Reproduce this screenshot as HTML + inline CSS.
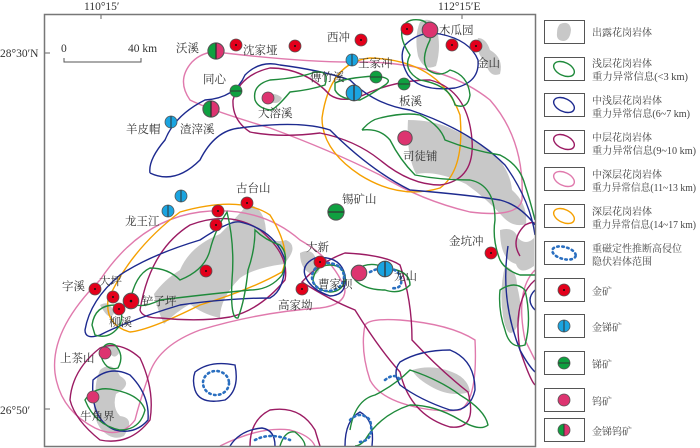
<!DOCTYPE html>
<html><head><meta charset="utf-8"><style>
body{margin:0;background:#fff;}
svg{display:block;font-family:"Liberation Serif","Noto Serif CJK SC",serif;}
.lb{font-size:11.5px;fill:#333;}
.lg{font-size:10px;fill:#444;}
</style></head><body>
<svg width="700" height="448" viewBox="0 0 700 448" xmlns="http://www.w3.org/2000/svg">
<text x="84" y="10" class="lb">110°15′</text>
<text x="438" y="10" class="lb">112°15′E</text>
<text x="0" y="57" class="lb">28°30′N</text>
<text x="0" y="414" class="lb">26°50′</text>
<line x1="101" y1="14" x2="101" y2="19" stroke="#666"/>
<line x1="462" y1="14" x2="462" y2="19" stroke="#666"/>
<line x1="44" y1="53" x2="50" y2="53" stroke="#666"/>
<line x1="44" y1="409" x2="50" y2="409" stroke="#666"/>
<g fill="#c8c8c8">
<path d="M420,22 q10,-6 16,4 q6,20 0,40 q-12,6 -18,-10 q-4,-20 2,-34z"/>
<path d="M478,38 q8,0 12,12 q14,8 10,24 q-10,4 -14,-10 q-12,-14 -8,-26z"/>
<path d="M262,98 q12,-8 20,0 q-4,10 -20,0z"/>
<path d="M408,120 q24,0 42,8 q22,10 40,22 q20,18 22,40 q16,14 14,34 q-12,4 -22,-6 q-18,-20 -38,-34 q-30,-14 -50,-10 q-10,-20 -8,-54z"/>
<path d="M500,230 q14,-4 18,8 q8,8 16,0 l0,28 q-14,10 -18,-2 q-16,-4 -16,-34z"/>
<path d="M505,266 q12,4 12,20 q8,30 -2,44 q-8,10 -12,-14 q-4,-26 2,-50z"/>
<path d="M180,270 q10,-24 40,-36 q14,-14 28,-30 q18,4 18,30 q8,10 20,6 q14,6 -2,24 q-30,4 -44,14 q-20,20 -20,40 q-18,-4 -30,-14 q-14,8 -26,20 q-8,-18 -10,-30 q10,-14 26,-24z"/>
<path d="M300,253 q12,-6 16,6 q8,12 -2,16 q-14,-4 -14,-22z"/>
<path d="M100,305 q10,-6 14,8 q-4,10 -14,-8z"/>
<path d="M100,370 q12,-10 20,6 q14,8 -4,18 q-4,14 4,22 q16,2 4,20 q-12,6 -24,-8 q-10,-16 -4,-30 q-2,-14 4,-28z"/>
<path d="M412,370 q20,-6 40,2 q16,6 18,20 q-20,6 -40,-6 q-14,-8 -18,-16z"/>
<path d="M105,345 q12,-4 14,8 q-6,10 -14,-8z"/>
</g>
<g fill="none" stroke-width="1.4">
<path stroke="#e07aad" d="M216,52 Q300,62 350,62 Q440,60 490,100 Q525,140 522,200 Q518,218 470,212 Q420,200 380,175 Q330,150 270,128 Q210,110 190,100 Q176,80 192,62 Q202,52 216,52z"/>
<path stroke="#e07aad" d="M55,373 Q50,330 100,280 Q140,220 200,212 Q260,205 300,240 Q335,260 345,290 Q345,305 320,308 Q260,312 200,330 Q160,345 150,372 Q140,400 135,420 Q120,440 95,428 Q60,410 55,373z"/>
<path stroke="#e07aad" d="M365,325 Q370,318 400,320 Q450,324 475,340 Q478,400 460,410 Q440,412 420,408 Q380,400 370,380 Q360,350 365,325z"/>
<path stroke="#e07aad" d="M535,270 Q515,290 525,340 Q535,360 535,360"/>
<path stroke="#e07aad" d="M220,446 Q260,426 290,430 Q310,435 315,446"/>
<path stroke="#f5a000" d="M322,118 Q330,62 370,58 Q440,60 460,115 Q465,170 440,188 Q400,200 360,175 Q322,150 322,118z"/>
<path stroke="#f5a000" d="M108,300 Q130,250 180,212 Q240,195 270,215 Q292,250 282,272 Q250,290 200,305 Q150,330 130,332 Q105,325 108,300z"/>
<path stroke="#9b1b63" d="M233,100 Q240,75 270,68 Q305,68 330,95 Q345,105 370,92 Q400,80 430,80 Q468,90 472,140 Q475,180 440,185 Q410,185 380,160 Q355,140 320,133 Q280,138 250,132 Q232,120 233,100z"/>
<path stroke="#9b1b63" d="M140,310 Q150,250 190,225 Q230,210 260,230 Q290,255 285,280 Q260,310 230,317 Q200,322 160,318 Q142,318 140,310z"/>
<path stroke="#9b1b63" d="M302,282 Q320,262 345,253 Q385,255 400,265 Q412,300 412,340 Q440,370 468,392 Q478,430 450,427 Q410,415 400,372 Q380,350 355,310 Q330,300 302,282z"/>
<path stroke="#9b1b63" d="M100,348 Q120,340 140,358 Q155,390 150,420 Q130,446 100,440 Q75,420 70,400 Q72,370 100,348z"/>
<path stroke="#9b1b63" d="M250,446 Q250,420 270,410 Q300,405 315,430 Q318,440 320,446"/>
<path stroke="#9b1b63" d="M520,256 Q510,240 525,225 Q535,220 535,225"/>
<path stroke="#9b1b63" d="M535,280 Q512,300 520,350 Q530,380 535,385"/>
<path stroke="#1d2a8f" d="M150,173 Q148,160 165,140 Q175,115 205,100 Q235,98 245,75 Q260,60 280,65 Q320,70 350,80 Q375,105 410,110 Q470,130 505,165 Q530,200 535,235 M150,173 Q175,185 200,160 Q215,130 240,128 Q300,120 330,130 Q370,170 410,190 Q470,195 500,200 Q520,205 535,225"/>
<path stroke="#1d2a8f" d="M405,45 Q420,30 440,34 Q470,40 478,60 Q480,82 455,88 Q420,92 408,75 Q398,58 405,45z"/>
<path stroke="#1d2a8f" d="M85,330 Q90,300 120,275 Q150,255 200,240 Q230,220 240,222 Q275,230 285,260 Q285,290 270,298 Q230,298 180,305 Q130,320 100,335 Q85,340 85,330z"/>
<path stroke="#1d2a8f" d="M306,278 Q300,265 315,258 Q340,255 345,275 Q348,295 330,296 Q312,290 306,278z"/>
<path stroke="#1d2a8f" d="M195,372 Q210,360 235,365 Q240,390 225,400 Q200,405 195,390 Q192,380 195,372z"/>
<path stroke="#1d2a8f" d="M93,380 Q110,365 130,375 Q150,395 148,420 Q135,435 115,430 Q90,420 93,380z"/>
<path stroke="#1d2a8f" d="M400,362 Q420,350 450,350 Q475,360 475,390 Q470,412 450,410 Q420,400 400,385 Q392,372 400,362z"/>
<path stroke="#1d2a8f" d="M508,246 Q500,300 520,350 Q528,365 535,372 M535,290 Q525,300 535,310"/>
<path stroke="#1d2a8f" d="M345,446 Q345,420 360,412 Q375,420 372,446"/>
<path stroke="#1d2a8f" d="M230,446 Q240,430 262,428 Q275,430 275,446"/>
<path stroke="#1f8a3b" d="M255,100 Q252,85 270,80 Q300,78 315,72 Q330,70 325,85 Q310,90 290,92 Q275,110 270,110 Q258,108 255,100z"/>
<path stroke="#1f8a3b" d="M335,83 Q345,78 375,76 Q395,78 385,85 Q370,95 360,100 Q340,100 335,90z"/>
<path stroke="#1f8a3b" d="M402,30 Q405,18 420,20 Q432,22 430,40 Q420,60 428,70 Q440,78 450,70 Q468,75 470,95 Q468,110 455,105 Q450,85 420,80 Q402,70 410,55 Q400,40 402,30z"/>
<path stroke="#1f8a3b" d="M362,130 Q370,120 380,118 Q405,112 420,115 Q440,125 445,140 Q470,150 500,155 Q520,165 525,185 Q530,200 535,220 M362,130 Q380,128 390,140 Q400,160 415,175 Q440,180 470,180 Q495,185 495,220 Q492,240 500,260 Q505,270 520,275 Q535,275 535,275"/>
<path stroke="#1f8a3b" d="M500,290 Q515,280 525,290 Q532,320 525,345 Q510,350 505,330 Q498,310 500,290z"/>
<path stroke="#1f8a3b" d="M92,325 Q95,305 115,305 Q125,310 120,325 Q110,340 95,335z"/>
<path stroke="#1f8a3b" d="M130,302 Q135,275 150,268 Q168,268 180,280 Q205,270 210,250 Q215,230 227,212 Q235,245 232,280 Q230,320 238,318 Q245,300 248,270 Q255,250 255,230 Q265,240 280,245 Q290,255 282,275 Q270,290 250,290 Q200,295 160,300 Q140,310 130,302z"/>
<path stroke="#1f8a3b" d="M313,280 Q315,265 330,265 Q345,265 345,280 Q342,292 330,292 Q315,290 313,280z"/>
<path stroke="#1f8a3b" d="M355,270 Q370,260 385,268 Q410,270 410,285 Q400,295 385,290 Q365,290 355,280z"/>
<path stroke="#1f8a3b" d="M100,353 Q105,340 115,345 Q125,355 118,368 Q105,372 100,353z"/>
<path stroke="#1f8a3b" d="M85,400 Q95,385 115,390 Q140,395 145,410 Q140,430 120,430 Q95,425 85,400z"/>
<path stroke="#1f8a3b" d="M350,430 Q355,400 375,395 Q395,385 410,370 Q440,380 460,395 Q485,410 488,425 Q480,432 460,420 Q435,405 410,405 Q380,415 365,440 Q360,446 355,446"/>
<path stroke="#1f8a3b" d="M280,446 Q285,430 295,432 Q305,440 305,446"/>
<g stroke="#2a6fc0" stroke-width="2.6" stroke-dasharray="1.5 3.5" stroke-linecap="round">
<ellipse cx="216" cy="383" rx="13" ry="12"/>
<ellipse cx="328" cy="277" rx="16" ry="14"/>
<path d="M370,272 Q390,262 400,275 Q405,290 390,288"/>
<path d="M350,420 Q360,410 370,420 Q375,440 360,442"/>
<path d="M385,380 Q395,372 400,380"/>
<path d="M255,440 Q270,432 290,440"/>
</g>
</g>
<rect x="44.5" y="14.5" width="491" height="432" fill="none" stroke="#777" stroke-width="1.5"/>
<path d="M64,58 v4 h77 v-4" fill="none" stroke="#555"/>
<text x="61" y="52" class="lb">0</text>
<text x="128" y="52" class="lb">40 km</text>
<defs>
<g id="au"><circle r="6" fill="#e3001b" stroke="#555" stroke-width="0.8"/><circle r="1" fill="#111"/></g>
<g id="ausb"><circle r="6" fill="#1aa4e0" stroke="#555" stroke-width="0.8"/><line x1="0" y1="-6" x2="0" y2="6" stroke="#333"/></g>
<g id="sb"><circle r="6" fill="#0fa040" stroke="#555" stroke-width="0.8"/><line x1="-6" y1="0" x2="6" y2="0" stroke="#333"/></g>
<g id="w"><circle r="6" fill="#dd3470" stroke="#555" stroke-width="0.8"/></g>
<g id="mix"><path d="M0,-6 A6,6 0 0 0 0,6z" fill="#0fa040"/><path d="M0,-6 A6,6 0 0 1 0,6z" fill="#dd3470"/><circle r="6" fill="none" stroke="#555" stroke-width="0.8"/><line x1="0" y1="-6" x2="0" y2="6" stroke="#333"/></g>
</defs>
<use href="#mix" transform="translate(216,51) scale(1.35)"/>
<use href="#mix" transform="translate(211,109) scale(1.35)"/>
<use href="#au" x="236" y="45"/><use href="#au" x="295" y="46"/><use href="#au" x="361" y="40"/>
<use href="#au" x="407" y="29"/><use href="#au" x="452" y="45"/><use href="#au" x="476" y="46"/>
<use href="#w" transform="translate(430,30) scale(1.3)"/>
<use href="#ausb" x="352" y="60"/><use href="#ausb" transform="translate(354,93) scale(1.3)"/>
<use href="#sb" x="376" y="77"/><use href="#sb" x="404" y="84"/><use href="#sb" x="236" y="91"/>
<use href="#w" x="268" y="98"/><use href="#ausb" x="171" y="122"/>
<use href="#w" transform="translate(405,138) scale(1.2)"/>
<use href="#ausb" x="181" y="196"/><use href="#ausb" x="168" y="211"/>
<use href="#au" x="247" y="203"/><use href="#au" x="218" y="211"/><use href="#au" x="216" y="225"/>
<use href="#sb" transform="translate(336,212) scale(1.35)"/>
<use href="#au" x="206" y="271"/><use href="#au" x="95" y="289"/><use href="#au" x="113" y="297"/>
<use href="#au" transform="translate(131,301) scale(1.3)"/><use href="#au" x="119" y="309"/>
<use href="#au" x="320" y="262"/><use href="#au" x="302" y="289"/>
<use href="#w" transform="translate(359,273) scale(1.3)"/><use href="#ausb" transform="translate(385,269) scale(1.3)"/>
<use href="#au" x="491" y="253"/>
<use href="#w" x="105" y="353"/><use href="#w" x="93" y="397"/>
<g class="lb">
<text x="176" y="52">沃溪</text><text x="243" y="54">沈家垭</text><text x="327" y="41">西冲</text>
<text x="439" y="34">木瓜园</text><text x="477" y="67">金山</text><text x="358" y="67">王家冲</text>
<text x="310" y="81">傅竹溪</text><text x="203" y="83">同心</text><text x="258" y="117">大溶溪</text>
<text x="399" y="105">板溪</text><text x="126" y="133">羊皮帽</text><text x="180" y="133">渣滓溪</text>
<text x="403" y="160">司徒铺</text><text x="236" y="192">古台山</text><text x="342" y="203">锡矿山</text>
<text x="125" y="225">龙王江</text><text x="306" y="251">大新</text><text x="449" y="245">金坑冲</text>
<text x="62" y="290">字溪</text><text x="99" y="285">大坪</text><text x="142" y="305">铲子坪</text>
<text x="109" y="326">柳溪</text><text x="278" y="309">高家坳</text><text x="318" y="288">曹家坝</text>
<text x="394" y="280">龙山</text><text x="60" y="362">上茶山</text><text x="80" y="420">牛角界</text>
</g>
<g fill="none" stroke="#555" stroke-width="1">
<rect x="544.5" y="20.5" width="40" height="23"/><rect x="544.5" y="57.5" width="40" height="23"/>
<rect x="544.5" y="93.5" width="40" height="23"/><rect x="544.5" y="130.5" width="40" height="23"/>
<rect x="544.5" y="167.5" width="40" height="23"/><rect x="544.5" y="204.5" width="40" height="23"/>
<rect x="544.5" y="241.5" width="40" height="23"/><rect x="544.5" y="278.5" width="40" height="23"/>
<rect x="544.5" y="314.5" width="40" height="23"/><rect x="544.5" y="351.5" width="40" height="23"/>
<rect x="544.5" y="388.5" width="40" height="23"/><rect x="544.5" y="418.5" width="40" height="23"/>
</g>
<path d="M560,24 q10,-4 11,6 q-1,10 -7,11 q-8,0 -7,-8 q0,-6 3,-9z" fill="#c8c8c8"/>
<g fill="none" stroke-width="1.4">
<ellipse cx="564" cy="69" rx="11" ry="6.5" transform="rotate(25 564 69)" stroke="#1f8a3b"/>
<ellipse cx="564" cy="105" rx="11" ry="6.5" transform="rotate(25 564 105)" stroke="#1d2a8f"/>
<ellipse cx="564" cy="142" rx="11" ry="6.5" transform="rotate(25 564 142)" stroke="#9b1b63"/>
<ellipse cx="564" cy="179" rx="11" ry="6.5" transform="rotate(25 564 179)" stroke="#e07aad"/>
<ellipse cx="564" cy="216" rx="11" ry="6.5" transform="rotate(25 564 216)" stroke="#f5a000"/>
<ellipse cx="564" cy="253" rx="12" ry="6" transform="rotate(15 564 253)" stroke="#2a6fc0" stroke-width="2.6" stroke-dasharray="1.5 3.5" stroke-linecap="round"/>
</g>
<use href="#au" x="564" y="290"/><use href="#ausb" x="564" y="326"/><use href="#sb" x="564" y="363"/>
<use href="#w" x="564" y="400"/><use href="#mix" x="564" y="430"/>
<g class="lg">
<text x="592" y="36">出露花岗岩体</text>
<text x="592" y="67">浅层花岗岩体</text><text x="592" y="80" textLength="96" lengthAdjust="spacingAndGlyphs">重力异常信息(&lt;3 km)</text>
<text x="592" y="104">中浅层花岗岩体</text><text x="592" y="117" textLength="98" lengthAdjust="spacingAndGlyphs">重力异常信息(6~7 km)</text>
<text x="592" y="141">中层花岗岩体</text><text x="592" y="154" textLength="104" lengthAdjust="spacingAndGlyphs">重力异常信息(9~10 km)</text>
<text x="592" y="178">中深层花岗岩体</text><text x="592" y="191" textLength="104" lengthAdjust="spacingAndGlyphs">重力异常信息(11~13 km)</text>
<text x="592" y="215">深层花岗岩体</text><text x="592" y="228" textLength="104" lengthAdjust="spacingAndGlyphs">重力异常信息(14~17 km)</text>
<text x="592" y="252">重磁定性推断高侵位</text><text x="592" y="265">隐伏岩体范围</text>
<text x="592" y="295">金矿</text><text x="592" y="331">金锑矿</text><text x="592" y="368">锑矿</text>
<text x="592" y="405">钨矿</text><text x="592" y="435">金锑钨矿</text>
</g>
</svg>
</body></html>
